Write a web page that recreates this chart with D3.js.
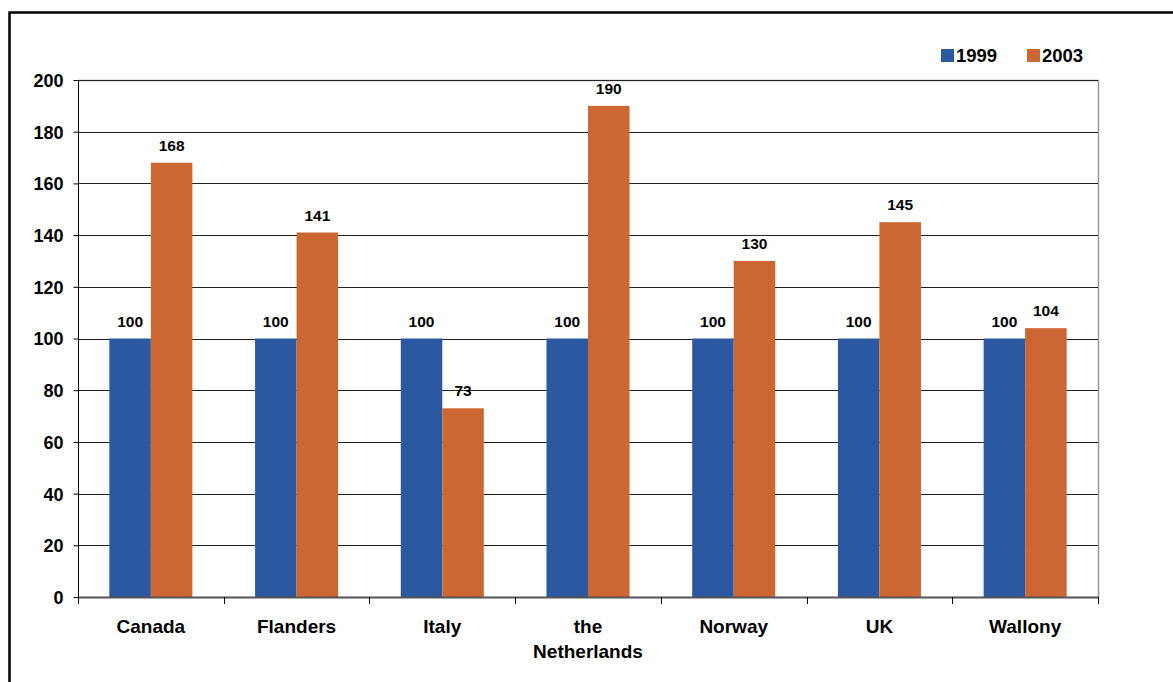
<!DOCTYPE html>
<html>
<head>
<meta charset="utf-8">
<script src="https://cdn.jsdelivr.net/npm/d3@7"></script>
<style>
  html, body { margin: 0; padding: 0; background: #fff; }
  svg { display: block; }
  text { font-family: "Liberation Sans", Arial, sans-serif; font-weight: bold; fill: #000; }
</style>
</head>
<body>
<svg id="chart" width="1173" height="682"></svg>
<script>
const categories = ["Canada", "Flanders", "Italy", "the Netherlands", "Norway", "UK", "Wallony"];
const seriesNames = ["1999", "2003"];
const values1999 = [100, 100, 100, 100, 100, 100, 100];
const values2003 = [168, 141, 73, 190, 130, 145, 104];
const yTicks = [0, 20, 40, 60, 80, 100, 120, 140, 160, 180, 200];
const colors = ["#2A59A1", "#CC6633"];

const svg = d3.select("#chart");
const W = 1173, H = 682;
const m = { left: 78, right: 1098, top: 80, bottom: 597 };

// outer frame
svg.append("rect").attr("x", 9.5).attr("y", 12.5).attr("width", W + 20).attr("height", H + 20)
  .attr("fill", "none").attr("stroke", "#000").attr("stroke-width", 2.5);

const x = d3.scaleBand().domain(categories).range([m.left, m.right]).paddingInner(0).paddingOuter(0);
const xs = d3.scaleBand().domain(seriesNames).range([0, x.bandwidth()]).paddingInner(0).paddingOuter(0.755);
const y = d3.scaleLinear().domain([0, 200]).range([m.bottom, m.top]);

// plot border (top/right) gray
svg.append("path")
  .attr("d", `M${m.left},${m.top + 0.5}H${m.right + 0.5}V${m.bottom}`)
  .attr("fill", "none").attr("stroke", "#999").attr("stroke-width", 1.5);

// gridlines
svg.append("g").selectAll("line").data(yTicks.filter(d => d > 0)).join("line")
  .attr("x1", m.left).attr("x2", m.right)
  .attr("y1", d => Math.round(y(d)) + 0.5).attr("y2", d => Math.round(y(d)) + 0.5)
  .attr("stroke", "#222").attr("stroke-width", 1);

// bars
const data = categories.map((c, i) => ({ cat: c, vals: [values1999[i], values2003[i]] }));
const groups = svg.append("g").selectAll("g").data(data).join("g")
  .attr("transform", d => `translate(${x(d.cat)},0)`);
groups.selectAll("rect").data(d => d.vals.map((v, j) => ({ v, s: seriesNames[j], j }))).join("rect")
  .attr("x", d => xs(d.s)).attr("width", xs.bandwidth())
  .attr("y", d => y(d.v)).attr("height", d => y(0) - y(d.v))
  .attr("fill", d => colors[d.j]);
groups.selectAll("text").data(d => d.vals.map((v, j) => ({ v, s: seriesNames[j], j }))).join("text")
  .attr("x", d => xs(d.s) + xs.bandwidth() / 2)
  .attr("y", d => y(d.v) - 12)
  .attr("text-anchor", "middle").style("font-size", "15.5px")
  .text(d => d.v);

// y axis
const yAxis = d3.axisLeft(y).tickValues(yTicks).tickSize(5).tickPadding(10);
const gy = svg.append("g").attr("transform", `translate(${m.left + 0.5},0)`).call(yAxis);
gy.select(".domain").attr("stroke", "#000").attr("d", `M0,${m.top}V${m.bottom}`);
gy.selectAll(".tick line").attr("stroke", "#000");
gy.selectAll(".tick text").style("font-size", "18px").style("font-family", "Liberation Sans, Arial, sans-serif")
  .style("font-weight", "bold").attr("fill", "#000").attr("dy", "0.36em");

// x axis
const gx = svg.append("g").attr("transform", `translate(0,${m.bottom})`);
gx.append("line").attr("x1", m.left).attr("x2", m.right + 1).attr("y1", 0.5).attr("y2", 0.5)
  .attr("stroke", "#555").attr("stroke-width", 2);
const boundaries = categories.map(c => x(c)).concat([x.range()[1]]);
gx.selectAll("line.tk").data(boundaries).join("line").attr("class", "tk")
  .attr("x1", d => Math.round(d) + 0.5).attr("x2", d => Math.round(d) + 0.5)
  .attr("y1", 0).attr("y2", 7).attr("stroke", "#000");
const xl = gx.selectAll("text").data(categories).join("text")
  .attr("x", d => x(d) + x.bandwidth() / 2).attr("y", 36)
  .attr("text-anchor", "middle").style("font-size", "19px");
xl.each(function(d) {
  const t = d3.select(this);
  if (d === "the Netherlands") {
    t.append("tspan").attr("x", x(d) + x.bandwidth() / 2).attr("dy", 0).text("the");
    t.append("tspan").attr("x", x(d) + x.bandwidth() / 2).attr("dy", 24.5).text("Netherlands");
  } else t.text(d);
});

// legend
const legend = svg.append("g");
const legX = [941, 1027];
seriesNames.forEach((s, i) => {
  legend.append("rect").attr("x", legX[i]).attr("y", 49).attr("width", 13).attr("height", 13).attr("fill", colors[i]);
  legend.append("text").attr("x", legX[i] + 15).attr("y", 62).style("font-size", "18.5px").text(s);
});
</script>
</body>
</html>
